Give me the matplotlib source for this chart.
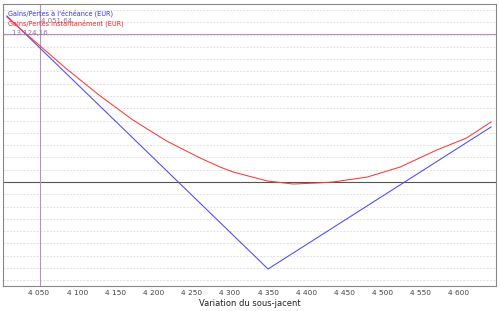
import matplotlib
matplotlib.use("Agg")
import matplotlib.pyplot as plt
from matplotlib.ticker import FuncFormatter, MultipleLocator

# Data
x_expiry = [4008, 4350, 4642]
y_expiry = [14720, -7715, 4877]

x_instant = [4008, 4050, 4087, 4130, 4173, 4217, 4261, 4287, 4304, 4349,
             4383, 4414, 4435, 4480, 4523, 4571, 4610, 4642]
y_instant = [14630, 12150, 9980, 7640, 5500, 3640, 2130, 1330, 890, 90,
             -180, -90, 0, 440, 1330, 2840, 3900, 5320]

xticks = [4050, 4100, 4150, 4200, 4250, 4300, 4350, 4400, 4450, 4500, 4550, 4600]
cursor_x = 4051.64
cursor_y = 13124.16

fig = plt.figure(figsize=(5.0, 3.11), dpi=100)
ax = fig.add_axes([3/500, 1 - 286/311, 493/500, 282/311])

ax.set_xlim(4002.9, 4648.5)
ax.set_ylim(-9223, 15785)

ax.yaxis.set_major_locator(MultipleLocator(1090))
ax.grid(axis='y', color='#d8d8d8', linestyle=(0, (2, 2)), linewidth=0.6)
ax.set_axisbelow(True)
ax.tick_params(axis='y', left=False, labelleft=False)

ax.set_xticks(xticks)
ax.xaxis.set_major_formatter(FuncFormatter(lambda v, p: f"{int(v):,}".replace(",", " ")))
ax.tick_params(axis='x', length=0, labelsize=5.3, labelcolor='#444444', pad=3)
ax.set_xlabel("Variation du sous-jacent", fontsize=6, color='#222222', labelpad=2)

for s in ax.spines.values():
    s.set_color('#888888')
    s.set_linewidth(0.8)

ax.axhline(0, color='#555555', linewidth=0.8)

ax.axvline(cursor_x, color='#b890c8', linewidth=0.8)
ax.axhline(cursor_y, color='#b890c8', linewidth=0.8)

ax.plot(x_expiry, y_expiry, color='#4848ff', linewidth=0.75)
ax.plot(x_instant, y_instant, color='#ff3838', linewidth=0.75)

ax.text(0.01, 0.966, "Gains/Pertes à l'échéance (EUR)", transform=ax.transAxes,
        color='#3030ff', fontsize=4.7, va='center', ha='left')
ax.text(0.078, 0.94, "4 051,64", transform=ax.transAxes,
        color='#9070a0', fontsize=5.0, va='center', ha='left')
ax.text(0.01, 0.93, "Gains/Pertes instantanément (EUR)", transform=ax.transAxes,
        color='#ff2020', fontsize=4.7, va='center', ha='left')
ax.text(0.018, 0.898, "13 124,16", transform=ax.transAxes,
        color='#9070a0', fontsize=5.0, va='center', ha='left')

fig.savefig("out.png", dpi=100)
